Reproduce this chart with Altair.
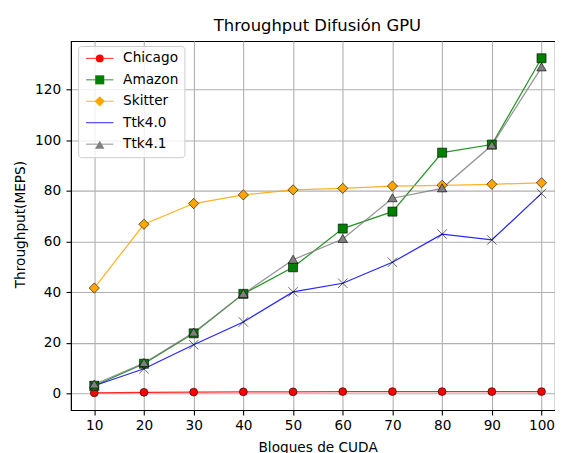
import altair as alt
import pandas as pd

# ---- data ----
blocks = [10, 20, 30, 40, 50, 60, 70, 80, 90, 100]
series_names = ["Chicago", "Amazon", "Skitter", "Ttk4.0", "Ttk4.1"]
chicago = [0.2, 0.4, 0.5, 0.6, 0.6, 0.7, 0.7, 0.7, 0.7, 0.7]
amazon = [3.0, 11.7, 23.7, 39.3, 49.8, 65.1, 71.8, 95.1, 98.3, 132.4]
skitter = [41.6, 66.8, 75.0, 78.4, 80.4, 81.0, 81.9, 82.2, 82.6, 83.2]
ttk40 = [3.0, 9.7, 19.2, 28.2, 40.1, 43.5, 51.8, 62.9, 60.6, 79.0]
ttk41 = [3.5, 12.0, 24.0, 39.3, 52.8, 61.0, 77.1, 81.0, 98.0, 128.8]

x_ticks = [10, 20, 30, 40, 50, 60, 70, 80, 90, 100]
y_ticks = [0, 20, 40, 60, 80, 100, 120]

colors = ["#ff0000", "#008000", "#ffa500", "#0000ff", "#808080"]
shapes = [
    "circle",
    "M-1.15,-1.15H1.15V1.15H-1.15Z",
    "M0,-1.3L1.3,0L0,1.3L-1.3,0Z",
    "M-1.2,-1.2L1.2,1.2M-1.2,1.2L1.2,-1.2",
    "M0,-1.15L1.2,0.9L-1.2,0.9Z",
]

rows = []
for name, vals in zip(series_names, [chicago, amazon, skitter, ttk40, ttk41]):
    for b, v in zip(blocks, vals):
        rows.append({"bloques": b, "meps": v, "serie": name, "serie_m": name})
df = pd.DataFrame(rows)

FONT = "DejaVu Sans"

x_enc = alt.X(
    "bloques:Q",
    scale=alt.Scale(domain=[5.31, 102.71], nice=False, zero=False),
    axis=alt.Axis(
        values=x_ticks,
        title="Bloques de CUDA",
        titleX=250.7,
        titleY=42,
        titleBaseline="alphabetic",
        labelPadding=4,
    ),
)
y_enc = alt.Y(
    "meps:Q",
    scale=alt.Scale(domain=[-6.6, 139.17], nice=False, zero=False),
    axis=alt.Axis(
        values=y_ticks,
        title="Throughput(MEPS)",
        titleX=-51.3,
        titleY=186,
        titleBaseline="middle",
        labelPadding=5.5,
    ),
)

common = dict(
    orient="none",
    legendX=7.3,
    legendY=5,
    title=None,
    padding=5.6,
    rowPadding=6.8,
    labelFont=FONT,
    labelFontSize=13.9,
    labelColor="black",
    symbolSize=64,
    symbolOffset=9.4,
    labelOffset=16.8,
    labelLimit=300,
    symbolStrokeWidth=1,
)

line_legend = alt.Legend(
    **common,
    symbolType="M-3.475,0H3.475",
    fillColor="rgba(255,255,255,0.8)",
    strokeColor="#cccccc",
    cornerRadius=3,
    symbolOpacity=0.85,
)
marker_legend = alt.Legend(
    **common,
    labelOpacity=0,
    symbolStrokeColor="black",
)

lines = alt.Chart(df).mark_line(strokeWidth=1.25, opacity=0.85).encode(
    x=x_enc,
    y=y_enc,
    color=alt.Color("serie:N", sort=series_names, scale=alt.Scale(range=colors), legend=line_legend),
)

points = alt.Chart(df).mark_point(
    filled=True, size=64, stroke="black", strokeOpacity=0.6, strokeWidth=1, opacity=1
).encode(
    x=x_enc,
    y=y_enc,
    fill=alt.Fill("serie_m:N", scale=alt.Scale(domain=series_names, range=colors), legend=marker_legend),
    shape=alt.Shape("serie_m:N", scale=alt.Scale(domain=series_names, range=shapes), legend=marker_legend),
)

chart = (
    alt.layer(lines, points)
    .properties(
        width=492,
        height=375,
        title=alt.TitleParams(
            "Throughput Difusión GPU",
            font=FONT,
            fontSize=16.7,
            fontWeight="normal",
            color="black",
            anchor="middle",
            dx=4.5,
            dy=14,
            offset=8,
            baseline="alphabetic",
        ),
        autosize=alt.AutoSizeParams(type="none"),
        padding={"left": 64, "top": 30, "right": 0, "bottom": 40},
        background="white",
    )
    .configure_view(stroke="black", strokeWidth=1.1)
    .configure_axis(
        grid=True,
        gridColor="#b0b0b0",
        gridWidth=1.1,
        domainColor="black",
        domainWidth=1.1,
        tickColor="black",
        tickWidth=1.1,
        tickSize=5,
        labelFont=FONT,
        labelFontSize=13.9,
        labelColor="black",
        titleFont=FONT,
        titleFontSize=13.9,
        titleFontWeight="normal",
        titleColor="black",
    )
)

chart.save("out.html", embed_options={"renderer": "svg", "actions": False})
